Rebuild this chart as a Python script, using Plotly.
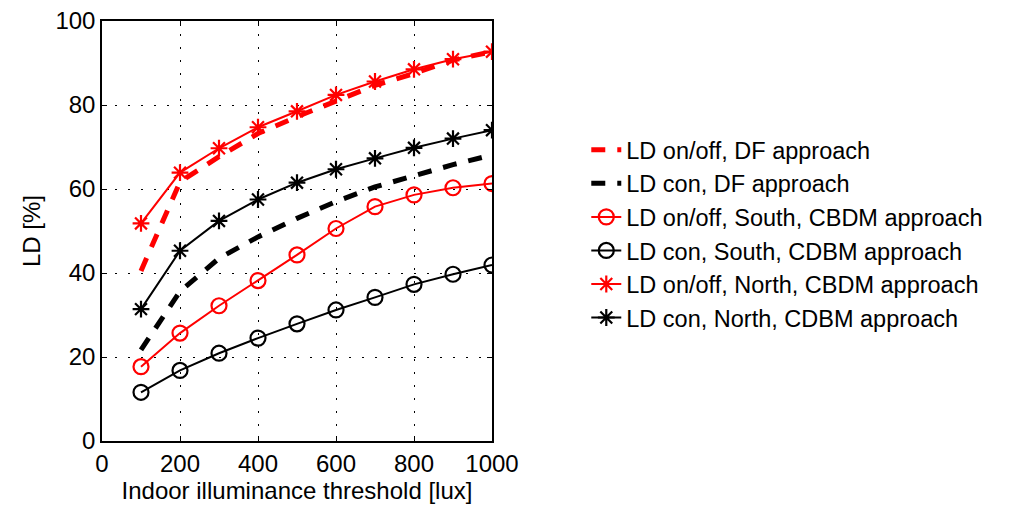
import plotly.graph_objects as go

thresholds = [100, 200, 300, 400, 500, 600, 700, 800, 900, 1000]

ld_onoff_df = [40.5, 61.7, 67.7, 73.2, 77.2, 81.1, 84.7, 87.5, 90.7, 92.7]
ld_con_df = [21.7, 35.6, 43.5, 48.6, 53.0, 57.0, 60.5, 63.3, 65.8, 68.1]
ld_onoff_south = [17.7, 25.7, 32.2, 38.2, 44.3, 50.6, 55.8, 58.6, 60.3, 61.3]
ld_con_south = [11.6, 16.8, 20.9, 24.5, 27.9, 31.2, 34.2, 37.3, 39.7, 41.9]
ld_onoff_north = [51.8, 63.9, 69.7, 74.7, 78.5, 82.4, 85.6, 88.5, 90.9, 92.7]
ld_con_north = [31.4, 45.3, 52.4, 57.5, 61.5, 64.7, 67.3, 69.8, 72.0, 74.0]

names = [
    "LD on/off, DF approach",
    "LD con, DF approach",
    "LD on/off, South, CBDM approach",
    "LD con, South, CDBM approach",
    "LD on/off, North, CBDM approach",
    "LD con, North, CDBM approach",
]

x_ticks = [0, 200, 400, 600, 800, 1000]
y_ticks = [0, 20, 40, 60, 80, 100]

RED = "#ff0000"
BLK = "#000000"
FONT = "Liberation Sans, Arial, sans-serif"

fig = go.Figure()

def add(y, name, color, dashed=False, symbol=None):
    if dashed:
        fig.add_trace(go.Scatter(
            x=thresholds, y=y, name=name, mode="lines",
            line=dict(color=color, width=5, dash="14px,12px"),
        ))
    else:
        fig.add_trace(go.Scatter(
            x=thresholds, y=y, name=name, mode="lines+markers",
            line=dict(color=color, width=2),
            marker=dict(symbol=symbol, size=15 if symbol == "circle-open" else 14,
                        color=color, line=dict(color=color, width=2.2)),
        ))

add(ld_onoff_df, names[0], RED, dashed=True)
add(ld_con_df, names[1], BLK, dashed=True)
add(ld_onoff_south, names[2], RED, symbol="circle-open")
add(ld_con_south, names[3], BLK, symbol="circle-open")
add(ld_onoff_north, names[4], RED, symbol="asterisk-open")
add(ld_con_north, names[5], BLK, symbol="asterisk-open")

axis_common = dict(
    showline=True, linecolor="black", linewidth=1.5, mirror="ticks",
    ticks="inside", ticklen=5, tickcolor="black", tickwidth=1,
    showgrid=True, gridcolor="black", gridwidth=1.2, griddash="2px,11px",
    zeroline=False, automargin=False,
    tickfont=dict(family=FONT, size=24, color="black"),
)

fig.update_layout(
    width=1034, height=512,
    margin=dict(l=102, r=542, t=21, b=71),
    paper_bgcolor="white", plot_bgcolor="white",
    font=dict(family=FONT, color="black"),
    xaxis=dict(range=[0, 1000], tickvals=x_ticks, ticktext=[str(v) for v in x_ticks],
               title=dict(text="Indoor illuminance threshold [lux]", font=dict(family=FONT, size=24), standoff=7),
               **axis_common),
    yaxis=dict(range=[0, 100], tickvals=y_ticks, ticktext=[str(v) for v in y_ticks],
               title=dict(text="LD [%]", font=dict(family=FONT, size=24), standoff=8),
               **axis_common),
    legend=dict(
        xref="container", yref="container", x=0.567, y=0.75, xanchor="left", yanchor="top",
        font=dict(family=FONT, size=23.5, color="black"),
        bgcolor="rgba(0,0,0,0)", borderwidth=0,
        itemwidth=30,
    ),
    showlegend=True,
)

fig.write_html("out.html", config={"displayModeBar": False},
               post_script="document.body.style.margin='0';")
